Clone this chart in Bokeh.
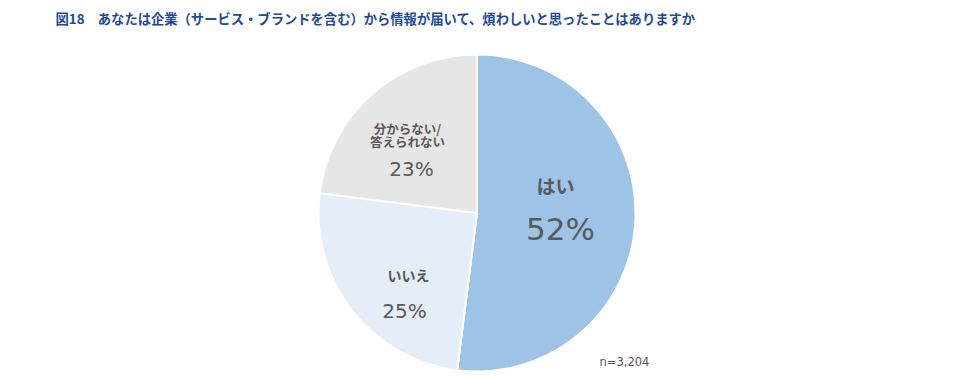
from math import pi
from bokeh.plotting import figure
from bokeh.models import Range1d, ColumnDataSource
from bokeh.core.properties import value
from bokeh.embed import file_html
from bokeh.resources import INLINE

# ---- data ----
categories = ["はい", "いいえ", "分からない/\n答えられない"]
shares = [52, 25, 23]
colors = ["#9DC3E6", "#E4EDF8", "#E7E6E6"]
title_text = "図18\u3000あなたは企業（サービス・ブランドを含む）から情報が届いて、煩わしいと思ったことはありますか"
note_text = "n=3,204"

W, H = 963, 379
FONT = "Noto Sans CJK JP"
NUMFONT = "DejaVu Sans"

p = figure(width=W, height=H, x_range=Range1d(0, W), y_range=Range1d(0, H),
           output_backend="svg", toolbar_location=None, min_border=0)
p.axis.visible = False
p.grid.visible = False
p.outline_line_color = None
p.background_fill_color = "white"

# wedges, clockwise from 12 o'clock
cx, cy, r = 476.5, 166.5, 158.5
total = sum(shares)
starts, ends = [], []
a = pi / 2
for s in shares:
    b = a - 2 * pi * s / total
    starts.append(b)
    ends.append(a)
    a = b
src = ColumnDataSource(dict(start=starts, end=ends, color=colors))
p.wedge(x=cx, y=cy, radius=r, start_angle="start", end_angle="end",
        fill_color="color", line_color="white", line_width=2, source=src)

# labels
txt_color = "#595959"
cat_pos = [(555, 194, 19), (408, 105, 14), (407, 251.5, 12.5)]
pct_pos = [(560, 151, 31), (404, 69, 20), (411, 211, 20)]
for i, cat in enumerate(categories):
    x, y, fs = cat_pos[i]
    lines = cat.split("\n")
    for j, ln in enumerate(lines):
        p.text(x=[x], y=[y - j * 13.5], text=[ln], text_font=value(FONT),
               text_font_size=f"{fs}px", text_color=txt_color, text_font_style="bold",
               text_align="center", text_baseline="middle")
    x, y, fs = pct_pos[i]
    p.text(x=[x], y=[y], text=[f"{shares[i]}%"], text_font=value(NUMFONT),
           text_font_size=f"{fs}px", text_color=txt_color,
           text_align="center", text_baseline="middle")

p.text(x=[624], y=[18], text=[note_text], text_font=value(NUMFONT),
       text_font_size="11.5px", text_color="#595959",
       text_align="center", text_baseline="middle")

p.text(x=[55], y=[361], text=[title_text], text_font=value(FONT),
       text_font_size="13.3px", text_font_style="bold", text_color="#1E4A9C",
       text_align="left", text_baseline="middle")

open("out.html", "w").write(file_html(p, INLINE))
